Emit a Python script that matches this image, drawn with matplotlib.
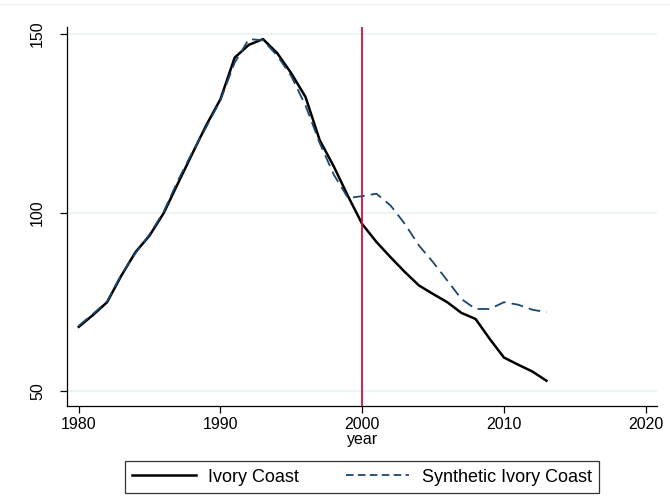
import matplotlib
matplotlib.use("Agg")
import matplotlib.pyplot as plt
from matplotlib.lines import Line2D

plt.rcParams['font.family'] = ['Liberation Sans', 'DejaVu Sans']

# Series values by year
years = list(range(1980, 2014))
ivory_coast = [68.0, 71.3, 74.9, 82.3, 88.9, 93.6, 99.9, 108.2, 116.4, 124.5,
               131.8, 143.4, 147.0, 148.6, 144.7, 139.0, 132.4, 120.3, 112.9, 104.6,
               96.8, 91.8, 87.5, 83.4, 79.6, 77.2, 74.9, 71.9, 70.2, 64.6,
               59.4, 57.4, 55.5, 52.9]
synthetic = [68.3, 71.6, 75.1, 82.6, 88.6, 93.9, 100.3, 109.0, 116.8, 124.0,
             131.5, 142.0, 148.6, 148.3, 144.0, 138.2, 130.0, 119.5, 110.6, 104.1,
             104.6, 105.3, 102.0, 96.9, 90.8, 86.1, 81.0, 75.8, 73.0, 73.0,
             74.9, 74.2, 72.8, 72.1]
treatment_year = 2000

x_ticks = [1980, 1990, 2000, 2010, 2020]
y_ticks = [50, 100, 150]

navy = '#1a476f'
red = '#d10f3f'
grid_col = '#eaf2f3'

fig = plt.figure(figsize=(6.7, 4.98), dpi=100)
ax = fig.add_axes([0.1006, 0.1853, 0.88, 0.7605])

for yt in y_ticks:
    ax.axhline(yt, color=grid_col, lw=1.2, zorder=0)

ax.plot(years, ivory_coast, color='black', lw=1.8, zorder=3)
ax.plot(years, synthetic, color=navy, lw=1.3, ls=(0, (6.5, 3.4)), zorder=3)
ax.axvline(treatment_year, color=red, lw=1.3, zorder=4)

ax.set_xlim(1979.2, 2020.8)
ax.set_ylim(45.9, 152.0)
ax.set_xticks(x_ticks)
ax.set_yticks(y_ticks)
ax.set_yticklabels([str(v) for v in y_ticks], rotation=90, va='center')
ax.tick_params(axis='both', direction='out', length=5, width=0.9, labelsize=11.5,
               colors='black', pad=3)
ax.tick_params(axis='y', pad=11)
ax.set_xlabel('year', fontsize=11.5, labelpad=0)

for side in ['top', 'right']:
    ax.spines[side].set_visible(False)
for side in ['left', 'bottom']:
    ax.spines[side].set_linewidth(0.9)

# legend sits under the plot area, centred on the axes
handles = [Line2D([], [], color='black', lw=1.8),
           Line2D([], [], color=navy, lw=1.3, ls=(0, (4.2, 2.4)))]
leg = fig.legend(handles, ['Ivory Coast', 'Synthetic Ivory Coast'],
                 loc='center', bbox_to_anchor=(0.5406, 0.042), ncol=2,
                 fontsize=13, frameon=True, fancybox=False, handlelength=3.5,
                 columnspacing=2.6, handletextpad=0.7, borderpad=0.4,
                 borderaxespad=0, edgecolor='black')
leg.get_frame().set_linewidth(0.9)

# faint outer border along the top of the graph region
fig.add_artist(Line2D([0.0, 1.0], [0.992, 0.992], color='#eef2f4', lw=1.0,
                      transform=fig.transFigure))

fig.savefig('out.png', dpi=100)
